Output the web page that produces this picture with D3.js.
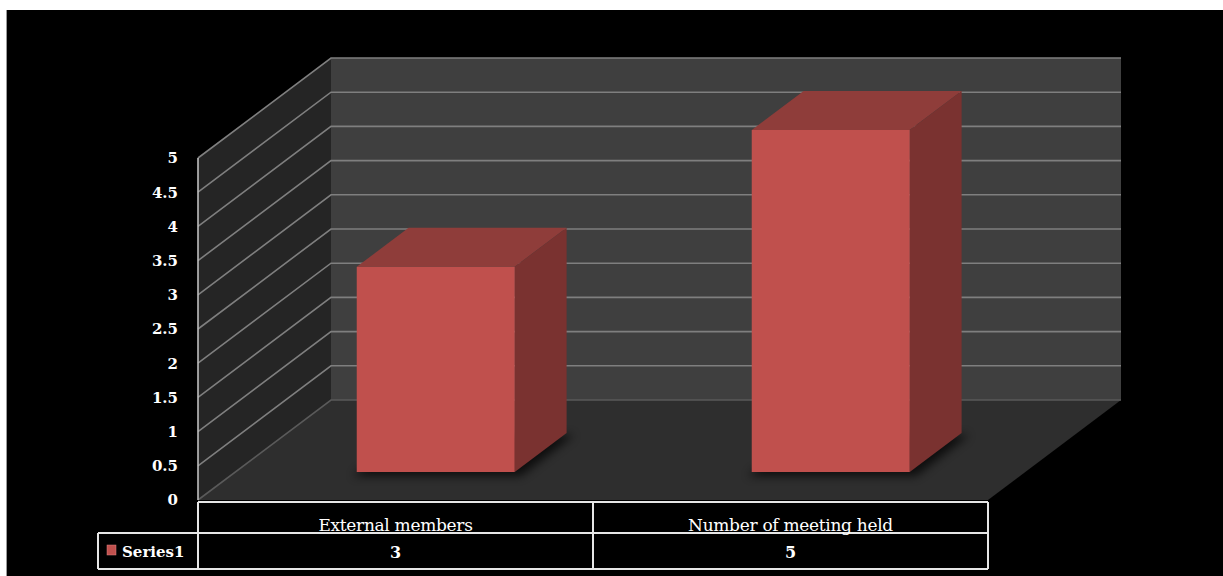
<!DOCTYPE html>
<html><head><meta charset="utf-8">
<script src="https://cdn.jsdelivr.net/npm/d3@7"></script>
<style>html,body{margin:0;padding:0;background:#fff;overflow:hidden}</style>
</head><body>
<svg id="c" width="1223" height="576"></svg>
<script>
const categories = ["External members", "Number of meeting held"];
const values = [3, 5];
const seriesName = "Series1";
const yTicks = [0, 0.5, 1, 1.5, 2, 2.5, 3, 3.5, 4, 4.5, 5];
const yTickLabels = ["0", "0.5", "1", "1.5", "2", "2.5", "3", "3.5", "4", "4.5", "5"];

const svg = d3.select("#c");
const W = 1223, H = 576;
// frame
svg.append("rect").attr("x", 7).attr("y", 10).attr("width", W - 7).attr("height", H - 10).attr("fill", "#000");
svg.append("line").attr("x1", 6.5).attr("x2", 6.5).attr("y1", 10).attr("y2", H).attr("stroke", "#9a9a9a").attr("stroke-width", 1);

// geometry
const plotL = 198, plotR = 988;
const DX = 133, DY = 100; // depth offset of back wall
const y = d3.scaleLinear().domain([0, 5]).range([500, 158]);
const x = d3.scaleBand().domain(categories).range([plotL + 3, plotR + 3]).paddingInner(0.6).paddingOuter(0.3);
const cat = d3.scaleBand().domain(categories).range([plotL, plotR]);
const P = (px, py, t) => [px + DX * t, py - DY * t];

const defs = svg.append("defs");
defs.append("filter").attr("id", "sh").attr("x", "-20%").attr("y", "-50%").attr("width", "140%").attr("height", "200%")
  .append("feGaussianBlur").attr("stdDeviation", 5);

const g = svg.append("g");
const y0 = y(0), y5 = y(5);
// back wall
g.append("polygon").attr("points", [P(plotL, y5, 1), P(plotR, y5, 1), P(plotR, y0, 1), P(plotL, y0, 1)].join(" ")).attr("fill", "#3f3f3f");
// side wall
g.append("polygon").attr("points", [P(plotL, y5, 0), P(plotL, y5, 1), P(plotL, y0, 1), P(plotL, y0, 0)].join(" ")).attr("fill", "#252525");
// floor
g.append("polygon").attr("points", [P(plotL, y0, 0), P(plotL, y0, 1), P(plotR, y0, 1), P(plotR, y0, 0)].join(" ")).attr("fill", "#2e2e2e");

// gridlines
yTicks.forEach(v => {
  const a = P(plotL, y(v), 0), b = P(plotL, y(v), 1), c = P(plotR, y(v), 1);
  g.append("polyline").attr("points", [a, b, c].join(" ")).attr("fill", "none")
    .attr("stroke", v === 0 ? "#5a5a5a" : "#7f7f7f").attr("stroke-width", 1.6);
});
// left axis line
g.append("line").attr("x1", plotL).attr("x2", plotL).attr("y1", y5).attr("y2", y0).attr("stroke", "#bfbfbf").attr("stroke-width", 1.6);

// y labels
const yl = svg.append("g").attr("font-family", "DejaVu Serif").attr("font-weight", "bold").attr("font-size", 15).attr("fill", "#fff").attr("text-anchor", "end");
yTicks.forEach((v, i) => {
  yl.append("text").attr("x", 178).attr("y", y(v)).attr("dy", "0.36em").text(yTickLabels[i]);
});

// bars
const t0 = 0.28, t1 = 0.67;
categories.forEach((c, i) => {
  const xl = x(c), xr = x(c) + x.bandwidth();
  const yt = y(values[i]);
  // shadow
  g.append("polygon").attr("points", [P(xl - 4, y0 + 4, t0), P(xr + 6, y0 + 4, t0), P(xr + 10, y0, t1 - 0.02), P(xl, y0, t1)].join(" "))
    .attr("fill", "#000").attr("opacity", 0.7).attr("filter", "url(#sh)");
  // top
  g.append("polygon").attr("points", [P(xl, yt, t0), P(xr, yt, t0), P(xr, yt, t1), P(xl, yt, t1)].join(" ")).attr("fill", "#8f3d3a");
  // side
  g.append("polygon").attr("points", [P(xr, yt, t0), P(xr, yt, t1), P(xr, y0, t1), P(xr, y0, t0)].join(" ")).attr("fill", "#7a3230");
  // front
  const f0 = P(xl, yt, t0), f1 = P(xr, y0, t0);
  g.append("rect").attr("x", f0[0]).attr("y", f0[1]).attr("width", f1[0] - f0[0]).attr("height", f1[1] - f0[1]).attr("fill", "#c0504d");
});

// data table
const tb = svg.append("g");
const rowTop = 502, rowMid = 533, rowBot = 569, legL = 98;
const ls = { stroke: "#e6e6e6", "stroke-width": 2 };
const line = (x1, y1, x2, y2) => { const l = tb.append("line").attr("x1", x1).attr("y1", y1).attr("x2", x2).attr("y2", y2); Object.entries(ls).forEach(([k, v]) => l.attr(k, v)); };
line(plotL, rowTop, plotR, rowTop);
line(legL, rowMid, plotR, rowMid);
line(legL, rowBot, plotR, rowBot);
line(legL, rowMid, legL, rowBot);
line(plotL, rowTop, plotL, rowBot);
categories.forEach(c => line(cat(c) + cat.bandwidth(), rowTop, cat(c) + cat.bandwidth(), rowBot));

categories.forEach((c, i) => {
  const cx = cat(c) + cat.bandwidth() / 2;
  tb.append("text").attr("x", cx).attr("y", 531).attr("text-anchor", "middle").attr("font-family", "DejaVu Serif")
    .attr("font-size", 17).attr("letter-spacing", -0.3).attr("fill", "#fff").text(c);
  tb.append("text").attr("x", cx).attr("y", 558).attr("text-anchor", "middle").attr("font-family", "DejaVu Serif")
    .attr("font-weight", "bold").attr("font-size", 16).attr("fill", "#fff").text(values[i]);
});
// legend
tb.append("rect").attr("x", 107).attr("y", 545).attr("width", 9).attr("height", 10).attr("fill", "#c0504d").attr("stroke", "#e08080").attr("stroke-width", 0.5);
tb.append("text").attr("x", 122).attr("y", 557).attr("font-family", "DejaVu Serif").attr("font-weight", "bold")
  .attr("font-size", 15).attr("fill", "#fff").text(seriesName);
</script>
</body></html>
